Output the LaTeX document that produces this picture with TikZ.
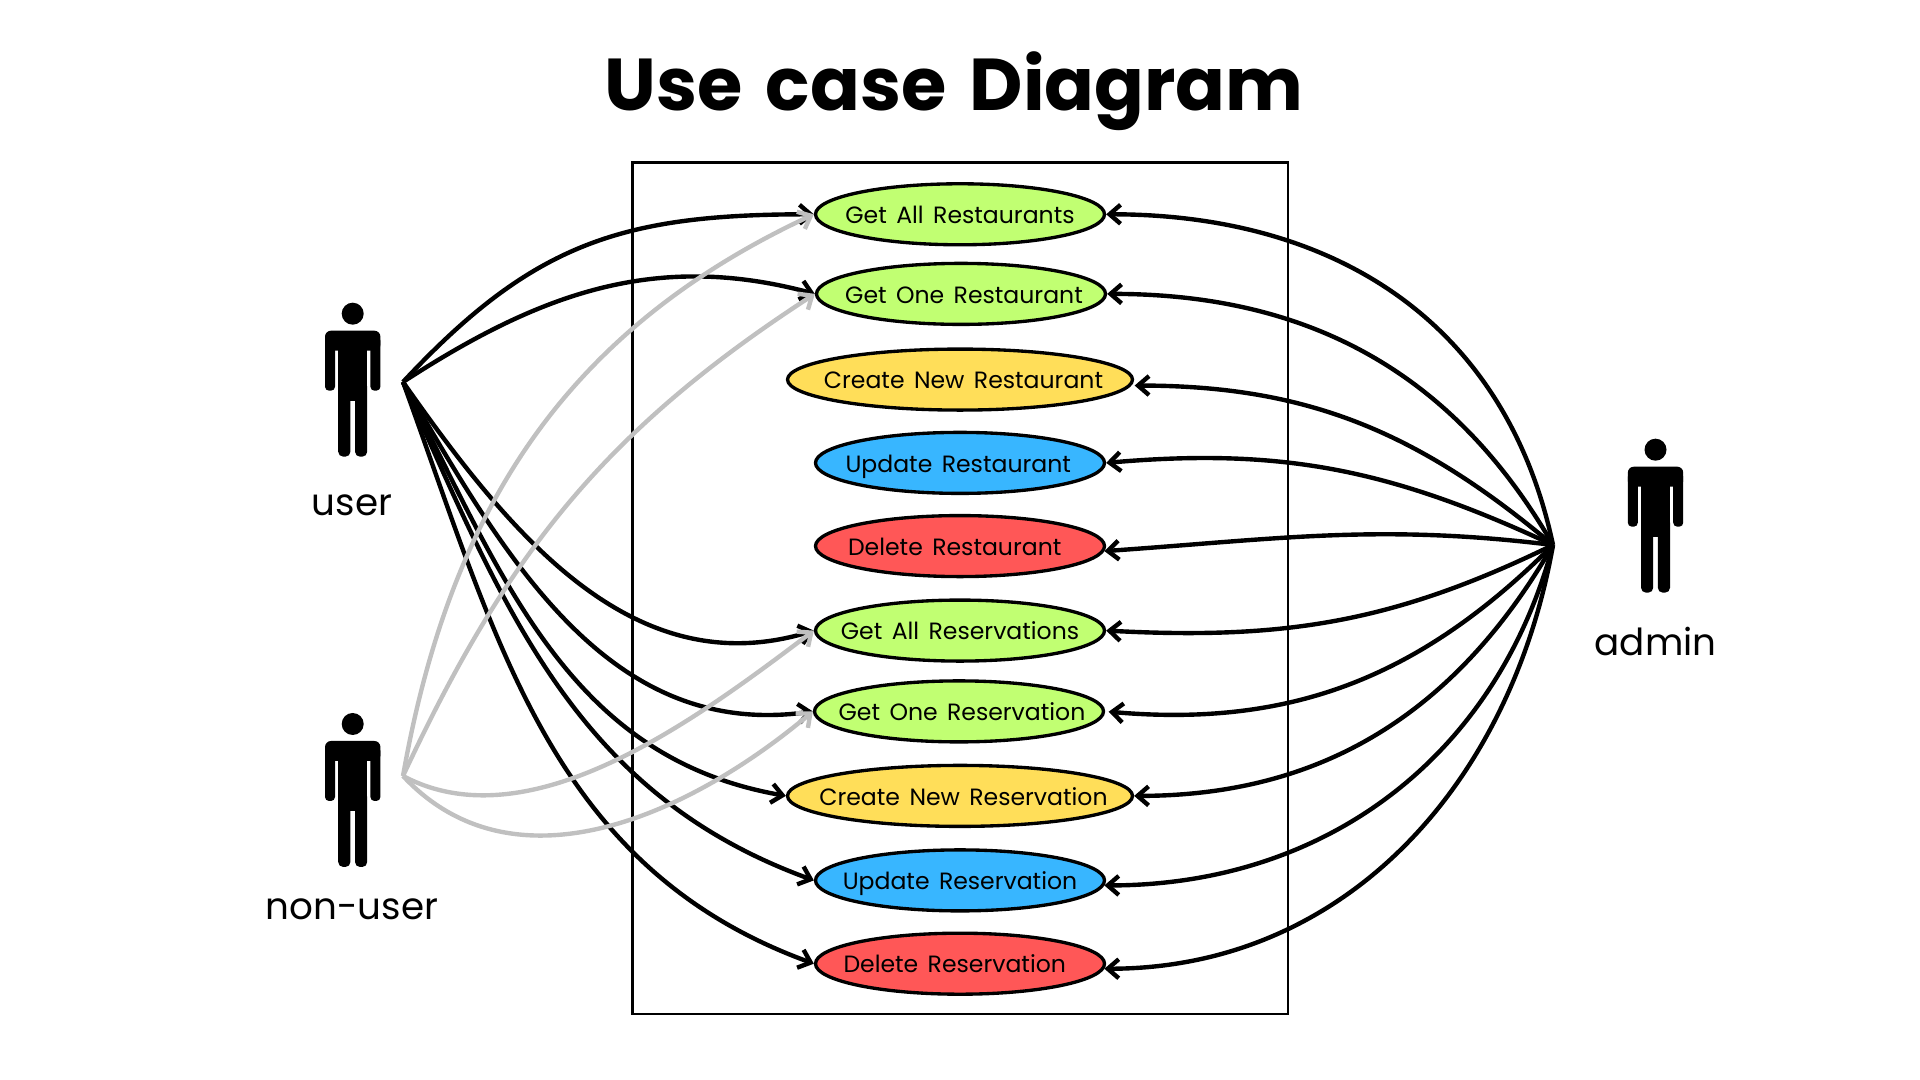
\documentclass[tikz,border=0pt]{standalone}
\usepackage{fontspec}
\setmainfont{Poppins}[WordSpace=1.5]
\usetikzlibrary{shapes.geometric, arrows.meta}
\definecolor{ucgreen}{HTML}{C1FF72}
\definecolor{ucyellow}{HTML}{FFDE59}
\definecolor{ucblue}{HTML}{38B6FF}
\definecolor{ucred}{HTML}{FF5757}
\definecolor{ucgray}{HTML}{C0C0C0}
\tikzset{
usecase/.style={ellipse, draw=black, line width=0.95pt, minimum width=2.89cm, minimum height=0.61cm, inner sep=0pt, font=\fontsize{6.7}{8}\selectfont},
widecase/.style={usecase, minimum width=3.45cm}, % the two create cases
actorname/.style={font=\fontsize{10.6}{12}\selectfont, anchor=base},
link/.style={->, >={Straight Barb[length=1.1mm,width=1.9mm]}, line width=1.25pt, black},
graylink/.style={link, ucgray},
actor/.pic={ % origin between the feet
  \fill (0,1.43) circle (0.11);
  \fill[rounded corners=0.06cm] (-0.277,1.06) rectangle (0.277,1.26);
  \fill[rounded corners=0.04cm] (-0.277,0.66) rectangle (-0.177,1.2);
  \fill[rounded corners=0.04cm] (0.177,0.66) rectangle (0.277,1.2);
  \fill (-0.145,0.56) rectangle (0.145,1.26);
  \fill[rounded corners=0.05cm] (-0.145,0) rectangle (-0.023,0.75);
  \fill[rounded corners=0.05cm] (0.023,0) rectangle (0.145,0.75);
},
}
\newcommand{\uctext}[2][0pt]{\makebox[0pt]{\hspace*{#1}\raisebox{-2.6pt}[0pt][0pt]{#2}}}

\begin{document}
\begin{tikzpicture}
\useasboundingbox (0,0) rectangle (19.2,10.8);
\node[font=\fontsize{20.9}{26}\selectfont\bfseries, anchor=base] (title) at (9.54,9.69) {Use case Diagram};
\draw[line width=0.75pt] (6.325,0.661) rectangle (12.88,9.178);

\node[usecase, fill=ucgreen] (getallrest) at (9.60,8.657) {\uctext{Get All Restaurants}};
\node[usecase, fill=ucgreen] (getonerest) at (9.61,7.861) {\uctext[1.7pt]{Get One Restaurant}};
\node[widecase, fill=ucyellow] (newrest) at (9.60,7.004) {\uctext[2pt]{Create New Restaurant}};
\node[usecase, fill=ucblue] (updrest) at (9.60,6.171) {\uctext[-1pt]{Update Restaurant}};
\node[usecase, fill=ucred] (delrest) at (9.60,5.339) {\uctext[-3pt]{Delete Restaurant}};
\node[usecase, fill=ucgreen] (getallres) at (9.60,4.494) {\uctext{Get All Reservations}};
\node[usecase, fill=ucgreen] (getoneres) at (9.59,3.686) {\uctext[1.7pt]{Get One Reservation}};
\node[widecase, fill=ucyellow] (newres) at (9.60,2.841) {\uctext[2pt]{Create New Reservation}};
\node[usecase, fill=ucblue] (updres) at (9.60,1.996) {\uctext{Update Reservation}};
\node[usecase, fill=ucred] (delres) at (9.60,1.163) {\uctext[-3pt]{Delete Reservation}};

\pic (user) at (3.527,6.233) {actor};
\pic (nonuser) at (3.527,2.13) {actor};
\pic (admin) at (16.555,4.873) {actor};
\node[actorname] (userlabel) at (3.52,5.64) {user};
\node[actorname] (nonuserlabel) at (3.52,1.60) {non-user};
\node[actorname] (adminlabel) at (16.555,4.24) {admin};

\coordinate (userhub) at (4.03,6.98);
\coordinate (nonuserhub) at (4.03,3.04);
\coordinate (adminhub) at (15.53,5.35);

\path[link] (userhub) edge[out=47, in=180, looseness=1.1] (getallrest.west)
    (userhub) edge[out=33, in=165] (getonerest.west)
    (userhub) edge[out=-55, in=197] (getallres.west)
    (userhub) edge[out=-60, in=188] (getoneres.west)
    (userhub) edge[out=-63, in=170] (newres.west)
    (userhub) edge[out=-66, in=160] (updres.west)
    (userhub) edge[out=-70, in=160] (delres.west);
\path[link] (adminhub) edge[out=102, in=0, looseness=1.05] (getallrest.east)
    (adminhub) edge[out=120, in=0] (getonerest.east)
    (adminhub) edge[out=140, in=0, shorten >=1pt] (newrest.-2)
    (adminhub) edge[out=155, in=5] (updrest.east)
    (adminhub) edge[out=173, in=4] (delrest.-2)
    (adminhub) edge[out=206, in=-3] (getallres.east)
    (adminhub) edge[out=225, in=-5, shorten >=1pt] (getoneres.east)
    (adminhub) edge[out=240, in=0] (newres.east)
    (adminhub) edge[out=255, in=0] (updres.-2)
    (adminhub) edge[out=260, in=0] (delres.-2);
\path[graylink] (nonuserhub) edge[out=80, in=205] (getallrest.west)
    (nonuserhub) edge[out=65, in=213] (getonerest.west)
    (nonuserhub) edge[out=-28, in=217, looseness=.85] (getallres.west)
    (nonuserhub) edge[out=-47, in=220] (getoneres.west);
\end{tikzpicture}
\end{document}
